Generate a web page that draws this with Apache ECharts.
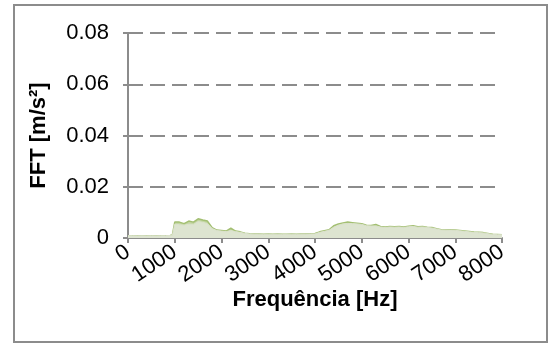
<!DOCTYPE html>
<html>
<head>
<meta charset="utf-8">
<script src="https://cdn.jsdelivr.net/npm/echarts@6/dist/echarts.min.js"></script>
<style>
  html, body { margin: 0; padding: 0; background: #fff; }
  #chart { width: 554px; height: 345px; }
</style>
</head>
<body>
<div id="chart"></div>
<script>
// Frequency bins (Hz)
const freqHz = [
  0, 100, 200, 300, 400, 500, 600, 700, 800, 900,
  950, 1000, 1100, 1200, 1300, 1400, 1500, 1600, 1700, 1800, 1900,
  2000, 2100, 2200, 2300, 2400, 2500, 2600, 2700, 2800, 2900,
  3000, 3100, 3200, 3300, 3400, 3500, 3600, 3700, 3800, 3900,
  4000, 4100, 4200, 4300, 4400, 4500, 4600, 4700, 4800, 4900,
  5000, 5100, 5200, 5300, 5400, 5500, 5600, 5700, 5800, 5900,
  6000, 6100, 6200, 6300, 6400, 6500, 6600, 6700, 6800, 6900,
  7000, 7100, 7200, 7300, 7400, 7500, 7600, 7700, 7800, 7900, 8000
];

// Peak spectrum amplitude (m/s²)
const fftPeak = [
  0.0009, 0.0009, 0.0008, 0.0009, 0.0008, 0.0009, 0.0008, 0.0009, 0.0009, 0.0010,
  0.0012, 0.0062, 0.0062, 0.0056, 0.0066, 0.0062, 0.0075, 0.0070, 0.0066, 0.0040, 0.0031,
  0.0029, 0.0027, 0.0038, 0.0027, 0.0024, 0.0019, 0.0017, 0.0016, 0.0016, 0.0015,
  0.0016, 0.0015, 0.0016, 0.0015, 0.0015, 0.0016, 0.0015, 0.0016, 0.0016, 0.0017,
  0.0018, 0.0024, 0.0028, 0.0032, 0.0048, 0.0055, 0.0059, 0.0062, 0.0060, 0.0058,
  0.0056, 0.0050, 0.0049, 0.0053, 0.0045, 0.0043, 0.0045, 0.0044, 0.0045, 0.0043,
  0.0046, 0.0048, 0.0044, 0.0045, 0.0042, 0.0041, 0.0036, 0.0032, 0.0031, 0.0032,
  0.0031, 0.0029, 0.0027, 0.0025, 0.0023, 0.0022, 0.0021, 0.0018, 0.0015, 0.0014, 0.0013
];

// Mean spectrum amplitude (m/s²)
const fftMean = [
  0.0009, 0.0009, 0.0008, 0.0009, 0.0008, 0.0009, 0.0008, 0.0009, 0.0009, 0.0010,
  0.0011, 0.0054, 0.0052, 0.0050, 0.0054, 0.0053, 0.0064, 0.0061, 0.0056, 0.0037, 0.0029,
  0.0027, 0.0025, 0.0029, 0.0025, 0.0022, 0.0018, 0.0016, 0.0015, 0.0015, 0.0014,
  0.0015, 0.0014, 0.0015, 0.0014, 0.0014, 0.0015, 0.0014, 0.0015, 0.0015, 0.0016,
  0.0016, 0.0022, 0.0026, 0.0030, 0.0042, 0.0050, 0.0055, 0.0057, 0.0056, 0.0055,
  0.0053, 0.0048, 0.0047, 0.0047, 0.0043, 0.0041, 0.0043, 0.0042, 0.0043, 0.0041,
  0.0044, 0.0045, 0.0042, 0.0043, 0.0041, 0.0039, 0.0035, 0.0031, 0.0030, 0.0031,
  0.0030, 0.0028, 0.0026, 0.0024, 0.0022, 0.0021, 0.0020, 0.0017, 0.0014, 0.0013, 0.0013
];

// Axis settings
const yTicks = [0, 0.02, 0.04, 0.06, 0.08];
const xTicks = [0, 1000, 2000, 3000, 4000, 5000, 6000, 7000, 8000];
const xTitle = 'Frequência [Hz]';
const yTitle = 'FFT [m/s²]';

const pairs = (ys) => freqHz.map((f, i) => [f, ys[i]]);

const chart = echarts.init(document.getElementById('chart'), null, { renderer: 'canvas' });
const font = 'Liberation Sans, Arial, sans-serif';

chart.setOption({
  animation: false,
  backgroundColor: '#ffffff',
  graphic: [{
    type: 'rect',
    shape: { x: 14, y: 5, width: 533, height: 337 },
    style: { fill: 'none', stroke: '#8c8c8c', lineWidth: 2 },
    silent: true,
    z: -1
  }],
  grid: { left: 128, top: 33, right: 52, bottom: 107, containLabel: false },
  xAxis: {
    type: 'value',
    min: xTicks[0],
    max: xTicks[xTicks.length - 1],
    interval: 1000,
    name: xTitle,
    nameLocation: 'middle',
    nameGap: 51,
    nameMoveOverlap: false,
    nameTextStyle: { fontFamily: font, fontWeight: 'bold', fontSize: 22, color: '#000' },
    axisLine: { show: true, onZero: false, lineStyle: { color: '#8c8c8c', width: 2 } },
    axisTick: { show: true, length: 5, lineStyle: { color: '#8c8c8c', width: 2 } },
    axisLabel: {
      rotate: 34, fontFamily: font, fontSize: 22, color: '#000', margin: 12,
      formatter: (v) => String(v)
    },
    splitLine: { show: false }
  },
  yAxis: {
    type: 'value',
    min: yTicks[0],
    max: yTicks[yTicks.length - 1],
    interval: 0.02,
    name: yTitle,
    nameLocation: 'middle',
    nameGap: 78,
    nameMoveOverlap: false,
    nameTextStyle: { fontFamily: font, fontWeight: 'bold', fontSize: 22, color: '#000' },
    axisLine: { show: true, lineStyle: { color: '#8c8c8c', width: 2 } },
    axisTick: { show: true, length: 5, lineStyle: { color: '#8c8c8c', width: 2 } },
    axisLabel: {
      fontFamily: font, fontSize: 22, color: '#000', margin: 19,
      formatter: (v) => (v === 0 ? '0' : v.toFixed(2))
    },
    splitLine: { show: true, lineStyle: { color: '#8c8c8c', width: 2, type: [15, 7] } }
  },
  series: [
    {
      name: 'Pico',
      type: 'line',
      data: pairs(fftPeak),
      showSymbol: false,
      smooth: false,
      lineStyle: { color: '#a3bf72', width: 1.5 },
      areaStyle: { color: '#c3d6a2', opacity: 1 },
      z: 2
    },
    {
      name: 'Média',
      type: 'line',
      data: pairs(fftMean),
      showSymbol: false,
      smooth: false,
      lineStyle: { color: '#dbe2cc', width: 1 },
      areaStyle: { color: '#dde4d0', opacity: 1 },
      z: 3
    }
  ]
});
</script>
</body>
</html>
